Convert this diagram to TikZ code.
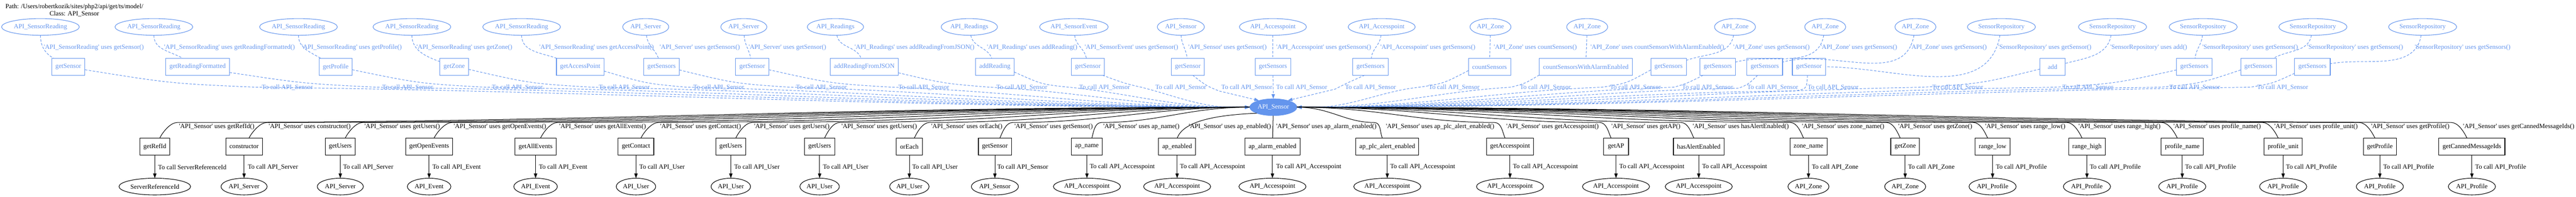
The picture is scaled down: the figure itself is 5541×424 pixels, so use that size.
\documentclass[tikz,border=0pt]{standalone}
\usepackage{fontspec}
\newfontfamily\gvfont{Liberation Serif}
\usetikzlibrary{shapes.geometric,arrows.meta}
\definecolor{cornflower}{RGB}{100,149,237}
\begin{document}
\begin{tikzpicture}[x=1pt, y=-1pt, scale=0.25, every node/.style={scale=0.25, font=\gvfont\fontsize{14}{16}\selectfont}]
		\tikzstyle{caller}=[ellipse,draw=cornflower,text=cornflower,line width=0.3pt,minimum height=36pt,inner xsep=2pt]
		\tikzstyle{method}=[rectangle,draw=cornflower,text=cornflower,line width=0.3pt,minimum height=36pt,minimum width=54pt,inner xsep=8pt]
		\tikzstyle{callee}=[ellipse,draw,line width=0.3pt,minimum height=36pt,inner xsep=2pt]
		\tikzstyle{member}=[rectangle,draw,line width=0.3pt,minimum height=36pt,minimum width=54pt,inner xsep=8pt]
		\tikzstyle{bluetext}=[text=cornflower,inner sep=0pt,anchor=west]
		\tikzstyle{blacktext}=[inner sep=0pt,anchor=west]
		\tikzstyle{usedby}=[cornflower,line width=0.28pt,dash pattern=on 1.3pt off 0.8pt]
		\tikzstyle{tosensor}=[usedby,-{Triangle[length=2.5pt,width=1.8pt]}]
		\tikzstyle{uses}=[line width=0.28pt]
		\tikzstyle{calls}=[line width=0.28pt,-{Triangle[length=2.5pt,width=1.8pt]}]
		\useasboundingbox (0,0) rectangle (5541,424);
		\node[align=center](title)at(160,22){Path: /Users/robertkozik/sites/php2/api/get/ts/model/\\Class: API\_Sensor};
		% classes that use API_Sensor
		\node[caller](t1)at(87,58){API\_SensorReading};
		\node[caller](t2)at(331,58){API\_SensorReading};
		\node[caller](t3)at(642,58){API\_SensorReading};
		\node[caller](t4)at(886,58){API\_SensorReading};
		\node[caller](t5)at(1122,58){API\_SensorReading};
		\node[caller](t6)at(1389,58){API\_Server};
		\node[caller](t7)at(1600,58){API\_Server};
		\node[caller](t8)at(1797,58){API\_Readings};
		\node[caller](t9)at(2085,58){API\_Readings};
		\node[caller](t10)at(2310,58){API\_SensorEvent};
		\node[caller](t11)at(2540,58){API\_Sensor};
		\node[caller](t12)at(2738,58){API\_Accesspoint};
		\node[caller](t13)at(2972,58){API\_Accesspoint};
		\node[caller](t14)at(3206,58){API\_Zone};
		\node[caller](t15)at(3414,58){API\_Zone};
		\node[caller](t16)at(3732,58){API\_Zone};
		\node[caller](t17)at(3926,58){API\_Zone};
		\node[caller](t18)at(4120,58){API\_Zone};
		\node[caller](t19)at(4305,58){SensorRepository};
		\node[caller](t20)at(4544,58){SensorRepository};
		\node[caller](t21)at(4739,58){SensorRepository};
		\node[caller](t22)at(4975,58){SensorRepository};
		\node[caller](t23)at(5211,58){SensorRepository};
		% their methods
		\node[method](m1)at(147,144){getSensor};
		\node[method](m2)at(425,144){getReadingFormatted};
		\node[method](m3)at(722,144){getProfile};
		\node[method](m4)at(977,144){getZone};
		\node[method](m5)at(1248,144){getAccessPoint};
		\node[method](m6)at(1423,144){getSensors};
		\node[method](m7)at(1618,144){getSensor};
		\node[method](m8)at(1859,144){addReadingFromJSON};
		\node[method](m9)at(2140,144){addReading};
		\node[method](m10)at(2340,144){getSensor};
		\node[method](m11)at(2555,144){getSensor};
		\node[method](m12)at(2738,144){getSensors};
		\node[method](m13)at(2948,144){getSensors};
		\node[method](m14)at(3204,144){countSensors};
		\node[method](m15)at(3411,144){countSensorsWithAlarmEnabled};
		\node[method](m16)at(3589,144){getSensors};
		\node[method](m17)at(3695,144){getSensors};
		\node[method](m18)at(3796,144){getSensors};
		\node[method](m19)at(3891,144){getSensor};
		\node[method](m20)at(4415,144){add};
		\node[method](m21)at(4720,144){getSensors};
		\node[method](m22)at(4858,144){getSensors};
		\node[method](m23)at(4974,144){getSensors};
		% the class itself
		\node[caller,fill=cornflower,text=white](sensor)at(2739,231){API\_Sensor};
		% methods of API_Sensor
		\node[member](b1)at(333,316){getRefId};
		\node[member](b2)at(525,316){constructor};
		\node[member](b3)at(732,316){getUsers};
		\node[member](b4)at(923,316){getOpenEvents};
		\node[member](b5)at(1152,316){getAllEvents};
		\node[member](b6)at(1368,316){getContact};
		\node[member](b7)at(1572,316){getUsers};
		\node[member](b8)at(1763,316){getUsers};
		\node[member](b9)at(1956,316){orEach};
		\node[member](b10)at(2140,316){getSensor};
		\node[member](b11)at(2338,316){ap\_name};
		\node[member](b12)at(2532,316){ap\_enabled};
		\node[member](b13)at(2737,316){ap\_alarm\_enabled};
		\node[member](b14)at(2984,316){ap\_plc\_alert\_enabled};
		\node[member](b15)at(3248,316){getAccesspoint};
		\node[member](b16)at(3476,316){getAP};
		\node[member](b17)at(3654,316){hasAlertEnabled};
		\node[member](b18)at(3890,316){zone\_name};
		\node[member](b19)at(4098,316){getZone};
		\node[member](b20)at(4286,316){range\_low};
		\node[member](b21)at(4489,316){range\_high};
		\node[member](b22)at(4694,316){profile\_name};
		\node[member](b23)at(4911,316){profile\_unit};
		\node[member](b24)at(5119,316){getProfile};
		\node[member](b25)at(5317,316){getCannedMessageIds};
		% classes they call
		\node[callee](e1)at(333,402){ServerReferenceId};
		\node[callee](e2)at(525,402){API\_Server};
		\node[callee](e3)at(732,402){API\_Server};
		\node[callee](e4)at(923,402){API\_Event};
		\node[callee](e5)at(1152,402){API\_Event};
		\node[callee](e6)at(1368,402){API\_User};
		\node[callee](e7)at(1572,402){API\_User};
		\node[callee](e8)at(1763,402){API\_User};
		\node[callee](e9)at(1956,402){API\_User};
		\node[callee](e10)at(2140,402){API\_Sensor};
		\node[callee](e11)at(2338,402){API\_Accesspoint};
		\node[callee](e12)at(2532,402){API\_Accesspoint};
		\node[callee](e13)at(2737,402){API\_Accesspoint};
		\node[callee](e14)at(2984,402){API\_Accesspoint};
		\node[callee](e15)at(3248,402){API\_Accesspoint};
		\node[callee](e16)at(3476,402){API\_Accesspoint};
		\node[callee](e17)at(3654,402){API\_Accesspoint};
		\node[callee](e18)at(3890,402){API\_Zone};
		\node[callee](e19)at(4098,402){API\_Zone};
		\node[callee](e20)at(4286,402){API\_Profile};
		\node[callee](e21)at(4489,402){API\_Profile};
		\node[callee](e22)at(4694,402){API\_Profile};
		\node[callee](e23)at(4911,402){API\_Profile};
		\node[callee](e24)at(5119,402){API\_Profile};
		\node[callee](e25)at(5317,402){API\_Profile};
		% labels, upper half
		\node[bluetext](u1)at(94,102){'API\_SensorReading' uses getSensor()};
		\node[bluetext](u2)at(353,102){'API\_SensorReading' uses getReadingFormatted()};
		\node[bluetext](u3)at(649,102){'API\_SensorReading' uses getProfile()};
		\node[bluetext](u4)at(896,102){'API\_SensorReading' uses getZone()};
		\node[bluetext](u5)at(1160,102){'API\_SensorReading' uses getAccessPoint()};
		\node[bluetext](u6)at(1419,102){'API\_Server' uses getSensors()};
		\node[bluetext](u7)at(1610,102){'API\_Server' uses getSensor()};
		\node[bluetext](u8)at(1838,102){'API\_Readings' uses addReadingFromJSON()};
		\node[bluetext](u9)at(2123,102){'API\_Readings' uses addReading()};
		\node[bluetext](u10)at(2333,102){'API\_SensorEvent' uses getSensor()};
		\node[bluetext](u11)at(2556,102){'API\_Sensor' uses getSensor()};
		\node[bluetext](u12)at(2745,102){'API\_Accesspoint' uses getSensors()};
		\node[bluetext](u13)at(2969,102){'API\_Accesspoint' uses getSensors()};
		\node[bluetext](u14)at(3213,102){'API\_Zone' uses countSensors()};
		\node[bluetext](u15)at(3421,102){'API\_Zone' uses countSensorsWithAlarmEnabled()};
		\node[bluetext](u16)at(3728,102){'API\_Zone' uses getSensors()};
		\node[bluetext](u17)at(3916,102){'API\_Zone' uses getSensors()};
		\node[bluetext](u18)at(4109,102){'API\_Zone' uses getSensors()};
		\node[bluetext](u19)at(4298,102){'SensorRepository' uses getSensor()};
		\node[bluetext](u20)at(4539,102){'SensorRepository' uses add()};
		\node[bluetext](u21)at(4737,102){'SensorRepository' uses getSensors()};
		\node[bluetext](u22)at(4963,102){'SensorRepository' uses getSensors()};
		\node[bluetext](u23)at(5194,102){'SensorRepository' uses getSensors()};
		\node[bluetext](c1)at(563,188){To call API\_Sensor};
		\node[bluetext](c2)at(822,188){To call API\_Sensor};
		\node[bluetext](c3)at(1058,188){To call API\_Sensor};
		\node[bluetext](c4)at(1288,188){To call API\_Sensor};
		\node[bluetext](c5)at(1491,188){To call API\_Sensor};
		\node[bluetext](c6)at(1712,188){To call API\_Sensor};
		\node[bluetext](c7)at(1932,188){To call API\_Sensor};
		\node[bluetext](c8)at(2143,188){To call API\_Sensor};
		\node[bluetext](c9)at(2321,188){To call API\_Sensor};
		\node[bluetext](c10)at(2485,188){To call API\_Sensor};
		\node[bluetext](c11)at(2627,188){To call API\_Sensor};
		\node[bluetext](c12)at(2745,188){To call API\_Sensor};
		\node[bluetext](c13)at(2893,188){To call API\_Sensor};
		\node[bluetext](c14)at(3073,188){To call API\_Sensor};
		\node[bluetext](c15)at(3269,188){To call API\_Sensor};
		\node[bluetext](c16)at(3463,188){To call API\_Sensor};
		\node[bluetext](c17)at(3618,188){To call API\_Sensor};
		\node[bluetext](c18)at(3758,188){To call API\_Sensor};
		\node[bluetext](c19)at(3888,188){To call API\_Sensor};
		\node[bluetext](c20)at(4156,188){To call API\_Sensor};
		\node[bluetext](c21)at(4436,188){To call API\_Sensor};
		\node[bluetext](c22)at(4666,188){To call API\_Sensor};
		\node[bluetext](c23)at(4855,188){To call API\_Sensor};
		% labels, lower half
		\node[blacktext](s1)at(385,273){'API\_Sensor' uses getRefId()};
		\node[blacktext](s2)at(578,273){'API\_Sensor' uses constructor()};
		\node[blacktext](s3)at(784,273){'API\_Sensor' uses getUsers()};
		\node[blacktext](s4)at(976,273){'API\_Sensor' uses getOpenEvents()};
		\node[blacktext](s5)at(1203,273){'API\_Sensor' uses getAllEvents()};
		\node[blacktext](s6)at(1420,273){'API\_Sensor' uses getContact()};
		\node[blacktext](s7)at(1622,273){'API\_Sensor' uses getUsers()};
		\node[blacktext](s8)at(1810,273){'API\_Sensor' uses getUsers()};
		\node[blacktext](s9)at(2003,273){'API\_Sensor' uses orEach()};
		\node[blacktext](s10)at(2182,273){'API\_Sensor' uses getSensor()};
		\node[blacktext](s11)at(2373,273){'API\_Sensor' uses ap\_name()};
		\node[blacktext](s12)at(2557,273){'API\_Sensor' uses ap\_enabled()};
		\node[blacktext](s13)at(2745,273){'API\_Sensor' uses ap\_alarm\_enabled()};
		\node[blacktext](s14)at(2981,273){'API\_Sensor' uses ap\_plc\_alert\_enabled()};
		\node[blacktext](s15)at(3240,273){'API\_Sensor' uses getAccesspoint()};
		\node[blacktext](s16)at(3466,273){'API\_Sensor' uses getAP()};
		\node[blacktext](s17)at(3641,273){'API\_Sensor' uses hasAlertEnabled()};
		\node[blacktext](s18)at(3876,273){'API\_Sensor' uses zone\_name()};
		\node[blacktext](s19)at(4083,273){'API\_Sensor' uses getZone()};
		\node[blacktext](s20)at(4270,273){'API\_Sensor' uses range\_low()};
		\node[blacktext](s21)at(4471,273){'API\_Sensor' uses range\_high()};
		\node[blacktext](s22)at(4675,273){'API\_Sensor' uses profile\_name()};
		\node[blacktext](s23)at(4892,273){'API\_Sensor' uses profile\_unit()};
		\node[blacktext](s24)at(5100,273){'API\_Sensor' uses getProfile()};
		\node[blacktext](s25)at(5298,273){'API\_Sensor' uses getCannedMessageIds()};
		\node[blacktext](k1)at(340,360){To call ServerReferenceId};
		\node[blacktext](k2)at(533,360){To call API\_Server};
		\node[blacktext](k3)at(738,360){To call API\_Server};
		\node[blacktext](k4)at(930,360){To call API\_Event};
		\node[blacktext](k5)at(1159,360){To call API\_Event};
		\node[blacktext](k6)at(1375,360){To call API\_User};
		\node[blacktext](k7)at(1579,360){To call API\_User};
		\node[blacktext](k8)at(1770,360){To call API\_User};
		\node[blacktext](k9)at(1962,360){To call API\_User};
		\node[blacktext](k10)at(2145,360){To call API\_Sensor};
		\node[blacktext](k11)at(2344,360){To call API\_Accesspoint};
		\node[blacktext](k12)at(2538,360){To call API\_Accesspoint};
		\node[blacktext](k13)at(2745,360){To call API\_Accesspoint};
		\node[blacktext](k14)at(2990,360){To call API\_Accesspoint};
		\node[blacktext](k15)at(3254,360){To call API\_Accesspoint};
		\node[blacktext](k16)at(3483,360){To call API\_Accesspoint};
		\node[blacktext](k17)at(3661,360){To call API\_Accesspoint};
		\node[blacktext](k18)at(3897,360){To call API\_Zone};
		\node[blacktext](k19)at(4104,360){To call API\_Zone};
		\node[blacktext](k20)at(4293,360){To call API\_Profile};
		\node[blacktext](k21)at(4495,360){To call API\_Profile};
		\node[blacktext](k22)at(4700,360){To call API\_Profile};
		\node[blacktext](k23)at(4917,360){To call API\_Profile};
		\node[blacktext](k24)at(5126,360){To call API\_Profile};
		\node[blacktext](k25)at(5324,360){To call API\_Profile};
		% caller -> method
		\draw[usedby]{
			(t1) to[out=-90,in=150] (m1)
		};
		\draw[usedby]{
			(t2) to[out=-90,in=150] (m2)
		};
		\draw[usedby]{
			(t3) to[out=-90,in=150] (m3)
		};
		\draw[usedby]{
			(t4) to[out=-90,in=160] (m4)
		};
		\draw[usedby]{
			(t5) to[out=-90,in=160] (m5)
		};
		\draw[usedby]{
			(t6) to[out=-85,in=110] (m6)
		};
		\draw[usedby]{
			(t7) to[out=-88,in=100] (m7)
		};
		\draw[usedby]{
			(t8) to[out=-80,in=110] (m8)
		};
		\draw[usedby]{
			(t9) to[out=-80,in=110] (m9)
		};
		\draw[usedby]{
			(t10) to[out=-85,in=100] (m10)
		};
		\draw[usedby]{
			(t11) to[out=-88,in=95] (m11)
		};
		\draw[usedby]{
			(t12) -- (m12)
		};
		\draw[usedby]{
			(t13) to[out=-95,in=85] (m13)
		};
		\draw[usedby]{
			(t14) -- (m14)
		};
		\draw[usedby]{
			(t15) -- (m15)
		};
		\draw[usedby]{
			(t16) to[out=-100,in=20] (m16)
		};
		\draw[usedby]{
			(t17) to[out=-100,in=15] (m17)
		};
		\draw[usedby]{
			(t18) to[out=-100,in=15] (m18)
		};
		\draw[usedby]{
			(t19) to[out=-100,in=0] (m19)
		};
		\draw[usedby]{
			(t20) to[out=-100,in=15] (m20)
		};
		\draw[usedby]{
			(t21) to[out=-95,in=85] (m21)
		};
		\draw[usedby]{
			(t22) to[out=-100,in=30] (m22)
		};
		\draw[usedby]{
			(t23) to[out=-100,in=10] (m23)
		};
		% method -> API_Sensor
		\draw[tosensor]{
			(m1.-10) .. controls (368,180) .. (553,188) .. controls (1287,196) and (1916,231) .. (2650,231) -- (sensor.west)
		};
		\draw[tosensor]{
			(m2.-10) .. controls (652,180) .. (810,188) .. controls (1454,196) and (2006,231) .. (2650,231) -- (sensor.west)
		};
		\draw[tosensor]{
			(m3.-10) .. controls (902,180) .. (1045,188) .. controls (1607,196) and (2088,231) .. (2650,231) -- (sensor.west)
		};
		\draw[tosensor]{
			(m4.-10) .. controls (1141,180) .. (1275,188) .. controls (1756,196) and (2169,231) .. (2650,231) -- (sensor.west)
		};
		\draw[tosensor]{
			(m5.-10) .. controls (1389,180) .. (1478,188) .. controls (1888,196) and (2240,231) .. (2650,231) -- (sensor.west)
		};
		\draw[tosensor]{
			(m6.-10) .. controls (1581,180) .. (1700,188) .. controls (2033,196) and (2317,231) .. (2650,231) -- (sensor.west)
		};
		\draw[tosensor]{
			(m7.-10) .. controls (1787,180) .. (1920,188) .. controls (2176,196) and (2394,231) .. (2650,231) -- (sensor.west)
		};
		\draw[tosensor]{
			(m8.-10) .. controls (2031,180) .. (2130,188) .. controls (2312,196) and (2468,231) .. (2650,231) -- (sensor.west)
		};
		\draw[tosensor]{
			(m9.-15) .. controls (2241,182) .. (2300,188) .. controls (2423,200) and (2527,231) .. (2650,231) -- (sensor.west)
		};
		\draw[tosensor]{
			(m10.-30) .. controls (2420,180) .. (2455,188) .. controls (2523,205) and (2582,231) .. (2650,231) -- (sensor.west)
		};
		\draw[tosensor]{
			(m11.-60) .. controls (2595,185) .. (2622,196) -- (sensor.155)
		};
		\draw[tosensor]{
			(m12) -- (sensor)
		};
		\draw[tosensor]{
			(m13.-125) .. controls (2895,180) .. (2872,192) -- (sensor.25)
		};
		\draw[tosensor]{
			(m14.-170) .. controls (3105,180) .. (3052,188) .. controls (2974,196) and (2906,231) .. (2828,231) -- (sensor.east)
		};
		\draw[tosensor]{
			(m15.-170) .. controls (3280,180) .. (3250,188) .. controls (3102,196) and (2976,231) .. (2828,231) -- (sensor.east)
		};
		\draw[tosensor]{
			(m16.-170) .. controls (3498,180) .. (3445,188) .. controls (3229,196) and (3044,231) .. (2828,231) -- (sensor.east)
		};
		\draw[tosensor]{
			(m17.-150) .. controls (3628,180) .. (3600,188) .. controls (3330,196) and (3098,231) .. (2828,231) -- (sensor.east)
		};
		\draw[tosensor]{
			(m18.-130) .. controls (3760,182) .. (3740,190) .. controls (3421,196) and (3147,231) .. (2828,231) -- (sensor.east)
		};
		\draw[tosensor]{
			(m19.-100) .. controls (3886,192) .. (3860,196) .. controls (3499,198) and (3189,231) .. (2828,231) -- (sensor.east)
		};
		\draw[tosensor]{
			(m20.-170) .. controls (4262,180) .. (4135,188) .. controls (3678,196) and (3285,231) .. (2828,231) -- (sensor.east)
		};
		\draw[tosensor]{
			(m21.-170) .. controls (4550,180) .. (4418,188) .. controls (3862,196) and (3384,231) .. (2828,231) -- (sensor.east)
		};
		\draw[tosensor]{
			(m22.-170) .. controls (4732,180) .. (4645,188) .. controls (4009,196) and (3464,231) .. (2828,231) -- (sensor.east)
		};
		\draw[tosensor]{
			(m23.-160) .. controls (4888,180) .. (4840,188) .. controls (4136,196) and (3532,231) .. (2828,231) -- (sensor.east)
		};
		% API_Sensor -> its methods
		\draw[uses]{
			(sensor.west) .. controls (1760,231) and (1301,264) .. (381,264) .. controls (366,264) and (349,286) .. (b1.60)
		};
		\draw[uses]{
			(sensor.west) .. controls (1838,231) and (1416,264) .. (574,264) .. controls (559,264) and (541,286) .. (b2.60)
		};
		\draw[uses]{
			(sensor.west) .. controls (1920,231) and (1540,264) .. (780,264) .. controls (765,264) and (748,286) .. (b3.60)
		};
		\draw[uses]{
			(sensor.west) .. controls (1997,231) and (1655,264) .. (972,264) .. controls (957,264) and (939,286) .. (b4.60)
		};
		\draw[uses]{
			(sensor.west) .. controls (2088,231) and (1791,264) .. (1199,264) .. controls (1184,264) and (1168,286) .. (b5.60)
		};
		\draw[uses]{
			(sensor.west) .. controls (2174,231) and (1922,264) .. (1416,264) .. controls (1401,264) and (1384,286) .. (b6.60)
		};
		\draw[uses]{
			(sensor.west) .. controls (2255,231) and (2043,264) .. (1618,264) .. controls (1603,264) and (1588,286) .. (b7.60)
		};
		\draw[uses]{
			(sensor.west) .. controls (2330,231) and (2156,264) .. (1806,264) .. controls (1791,264) and (1779,286) .. (b8.60)
		};
		\draw[uses]{
			(sensor.west) .. controls (2408,231) and (2271,264) .. (1999,264) .. controls (1984,264) and (1972,286) .. (b9.60)
		};
		\draw[uses]{
			(sensor.west) .. controls (2479,231) and (2379,264) .. (2178,264) .. controls (2163,264) and (2156,286) .. (b10.60)
		};
		\draw[uses]{
			(sensor.west) .. controls (2556,231) and (2493,264) .. (2369,264) .. controls (2354,264) and (2352,286) .. (b11.60)
		};
		\draw[uses]{
			(sensor.200) .. controls (2610,248) and (2545,262) .. (b12.north)
		};
		\draw[uses]{
			(sensor) -- (b13)
		};
		\draw[uses]{
			(sensor.east) .. controls (2861,231) and (2893,264) .. (2956,264) .. controls (2971,264) and (2968,286) .. (b14.120)
		};
		\draw[uses]{
			(sensor.east) .. controls (2965,231) and (3048,264) .. (3215,264) .. controls (3230,264) and (3232,286) .. (b15.120)
		};
		\draw[uses]{
			(sensor.east) .. controls (3055,231) and (3184,264) .. (3441,264) .. controls (3456,264) and (3460,286) .. (b16.120)
		};
		\draw[uses]{
			(sensor.east) .. controls (3125,231) and (3289,264) .. (3616,264) .. controls (3631,264) and (3638,286) .. (b17.120)
		};
		\draw[uses]{
			(sensor.east) .. controls (3219,231) and (3430,264) .. (3851,264) .. controls (3866,264) and (3874,286) .. (b18.120)
		};
		\draw[uses]{
			(sensor.east) .. controls (3302,231) and (3554,264) .. (4058,264) .. controls (4073,264) and (4082,286) .. (b19.120)
		};
		\draw[uses]{
			(sensor.east) .. controls (3377,231) and (3666,264) .. (4245,264) .. controls (4260,264) and (4270,286) .. (b20.120)
		};
		\draw[uses]{
			(sensor.east) .. controls (3457,231) and (3787,264) .. (4446,264) .. controls (4461,264) and (4473,286) .. (b21.120)
		};
		\draw[uses]{
			(sensor.east) .. controls (3539,231) and (3909,264) .. (4650,264) .. controls (4665,264) and (4678,286) .. (b22.120)
		};
		\draw[uses]{
			(sensor.east) .. controls (3626,231) and (4039,264) .. (4867,264) .. controls (4882,264) and (4895,286) .. (b23.120)
		};
		\draw[uses]{
			(sensor.east) .. controls (3709,231) and (4164,264) .. (5075,264) .. controls (5090,264) and (5103,286) .. (b24.120)
		};
		\draw[uses]{
			(sensor.east) .. controls (3788,231) and (4283,264) .. (5273,264) .. controls (5288,264) and (5301,286) .. (b25.120)
		};
		% method -> class it calls
		\draw[calls]{ (b1) -- (e1) };
		\draw[calls]{ (b2) -- (e2) };
		\draw[calls]{ (b3) -- (e3) };
		\draw[calls]{ (b4) -- (e4) };
		\draw[calls]{ (b5) -- (e5) };
		\draw[calls]{ (b6) -- (e6) };
		\draw[calls]{ (b7) -- (e7) };
		\draw[calls]{ (b8) -- (e8) };
		\draw[calls]{ (b9) -- (e9) };
		\draw[calls]{ (b10) -- (e10) };
		\draw[calls]{ (b11) -- (e11) };
		\draw[calls]{ (b12) -- (e12) };
		\draw[calls]{ (b13) -- (e13) };
		\draw[calls]{ (b14) -- (e14) };
		\draw[calls]{ (b15) -- (e15) };
		\draw[calls]{ (b16) -- (e16) };
		\draw[calls]{ (b17) -- (e17) };
		\draw[calls]{ (b18) -- (e18) };
		\draw[calls]{ (b19) -- (e19) };
		\draw[calls]{ (b20) -- (e20) };
		\draw[calls]{ (b21) -- (e21) };
		\draw[calls]{ (b22) -- (e22) };
		\draw[calls]{ (b23) -- (e23) };
		\draw[calls]{ (b24) -- (e24) };
		\draw[calls]{ (b25) -- (e25) };
		\end{tikzpicture}
\end{document}
